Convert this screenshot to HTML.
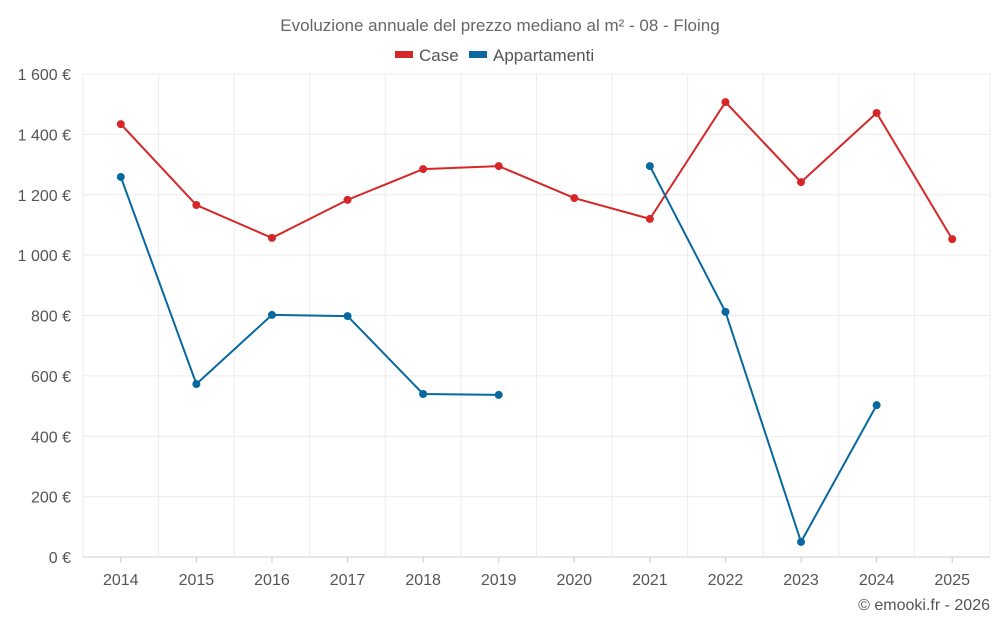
<!DOCTYPE html>
<html><head><meta charset="utf-8"><style>
html,body{margin:0;padding:0;background:#fff;}
svg{display:block;font-family:"Liberation Sans",Roboto,sans-serif;}
</style></head><body>
<svg id="chart" width="1000" height="625">
<text x="500" y="31" text-anchor="middle" font-size="17" fill="#666">Evoluzione annuale del prezzo mediano al m² - 08 - Floing</text>
<g>
<g><rect x="395" y="51" width="18" height="7" fill="#d62728"/><text x="419" y="61" font-size="17" fill="#555">Case</text></g>
<g><rect x="469" y="51" width="18" height="7" fill="#0868a0"/><text x="493" y="61" font-size="17" fill="#555">Appartamenti</text></g>
</g>
<g id="grid"></g>
<g id="axes"></g>
<g id="series"></g>
<text x="990" y="610" text-anchor="end" font-size="16" fill="#555">© emooki.fr - 2026</text>
</svg>
<script>
const years = ["2014","2015","2016","2017","2018","2019","2020","2021","2022","2023","2024","2025"];
const caseValues = [1434,1166,1057,1183,1285,1295,1189,1120,1507,1242,1471,1053];
const apptValues = [1259,573,802,798,540,537,null,1295,812,50,503,null];
const yTicks = [0,200,400,600,800,1000,1200,1400,1600];
const yTickLabels = ["0 €","200 €","400 €","600 €","800 €","1 000 €","1 200 €","1 400 €","1 600 €"];

const L=83,R=990,T=74,B=557,ymax=1600;
const step=(R-L)/years.length;
const x=i=>L+step*(i+0.5);
const y=v=>B-(v/ymax)*(B-T);
const NS="http://www.w3.org/2000/svg";
function mk(tag,attrs,parent){const e=document.createElementNS(NS,tag);for(const k in attrs)e.setAttribute(k,attrs[k]);parent.appendChild(e);return e;}
const grid=document.getElementById('grid'),axes=document.getElementById('axes'),series=document.getElementById('series');
yTicks.forEach((t,i)=>{
  const g=mk('line',{x1:L,x2:R,y1:y(t),y2:y(t),stroke:i===0?'#ccc':'#ececec','stroke-width':1},grid);
  
  
  const tx=mk('text',{x:L-12,y:y(t)+6,'text-anchor':'end','font-size':16,fill:'#555'},axes);
  tx.textContent=yTickLabels[i];
  
  
});
for(let i=0;i<=years.length;i++){
  const g=mk('line',{x1:L+step*i,x2:L+step*i,y1:T,y2:B,stroke:'#ececec','stroke-width':1},grid);
  
  
}
years.forEach((yr,i)=>{
  const tk=mk('line',{x1:x(i),x2:x(i),y1:B,y2:B+6,stroke:'#ccc'},axes);
  
  
  const tx=mk('text',{x:x(i),y:B+28,'text-anchor':'middle','font-size':16,fill:'#555'},axes);
  tx.textContent=yr;
  
  
});
function draw(vals,color,name){
  let d='',pen=false;
  vals.forEach((v,i)=>{ if(v==null){pen=false;return;} d+=(pen?'L':'M')+x(i)+','+y(v)+' '; pen=true;});
  const p=mk('path',{d:d,fill:'none',stroke:color,'stroke-width':2},series);
  
  
  vals.forEach((v,i)=>{ if(v==null)return;
    const c=mk('circle',{cx:x(i),cy:y(v),r:4,fill:color},series);
    
    
  });
}
draw(caseValues,'#d62728','case');
draw(apptValues,'#0868a0','appartamenti');
</script>
</body></html>
